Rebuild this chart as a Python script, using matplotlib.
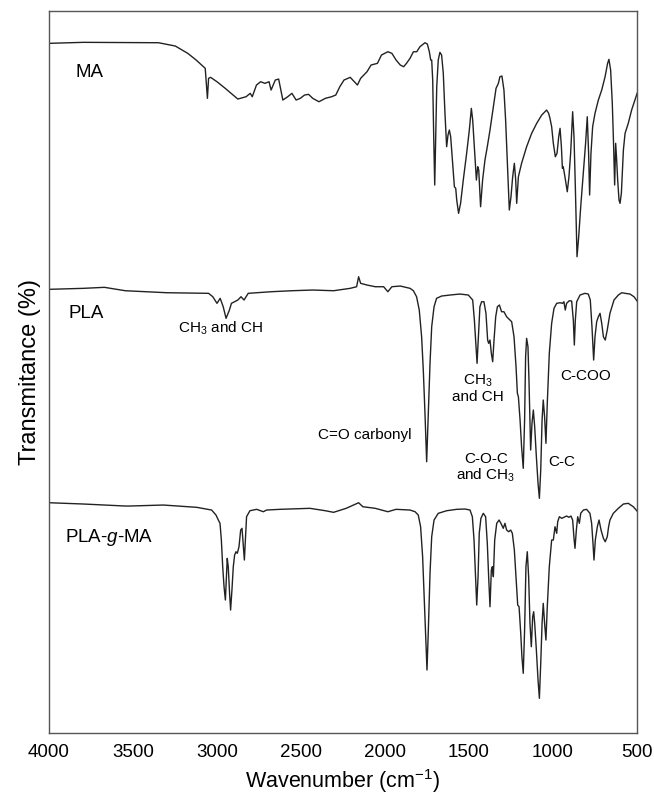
import matplotlib.pyplot as plt

plt.rcParams['font.family'] = ['Liberation Sans', 'DejaVu Sans']
plt.rcParams['mathtext.fontset'] = 'custom'
plt.rcParams['mathtext.rm'] = 'Liberation Sans'
plt.rcParams['mathtext.it'] = 'Liberation Sans:italic'

# spectra (wavenumber in cm-1, offset transmittance in arbitrary units)
ma_wn = [4000, 3794, 3546, 3348, 3248, 3174, 3124, 3080, 3070, 3057, 3050, 3038, 3000, 2951, 2876,
         2827, 2802, 2790, 2765, 2740, 2715, 2690, 2678, 2653, 2633, 2608, 2579, 2554, 2529, 2504,
         2479, 2455, 2430, 2393, 2355, 2318, 2293, 2269, 2244, 2207, 2182, 2164, 2145, 2107, 2083,
         2045, 2021, 1983, 1959, 1934, 1909, 1889, 1872,
         1851, 1831, 1811, 1792, 1762, 1748, 1736, 1728, 1722, 1716, 1710, 1704, 1698, 1692, 1683,
         1673, 1663, 1653, 1643, 1633, 1625, 1617, 1609, 1597, 1587, 1579, 1573, 1562, 1550, 1534,
         1514, 1498, 1486, 1478, 1466, 1456, 1448, 1442, 1431, 1419, 1405, 1391, 1375, 1355, 1339,
         1325, 1316, 1304, 1292, 1282, 1272, 1260, 1250, 1240, 1230, 1222, 1216, 1206, 1187, 1157,
         1127, 1097, 1067, 1038, 1026, 1018, 1008, 998, 986, 976, 966, 958, 950, 944, 939, 929,
         915, 905, 895, 883, 875, 867, 857, 847, 835, 820, 806, 796, 788, 782, 774, 764, 750, 730,
         710, 690, 675, 667, 657, 647, 639, 633, 627, 621, 615, 607, 601, 593, 581, 571, 552, 532,
         512, 496]
ma_t = [689.7, 690.7, 690.5, 690.3, 687, 679.7, 673, 666.3, 664.7, 634.7, 654.7, 655.7, 651.3, 644.7, 634,
        636.3, 639.7, 636.3, 648, 651.3, 649.7, 651.3, 643, 653, 654, 633, 636.3, 639.7, 633, 634.7,
        638, 638.7, 634.7, 631.3, 634.7, 636.3, 638, 646.3, 653, 655.7, 651.3, 648, 654.7, 661.3, 668,
        669.7, 678, 681.3, 679.7, 673, 668, 666.3, 669.7,
        674.7, 681.3, 681.3, 686.3, 690.3, 689, 681.3, 673, 673, 653, 596.3, 548, 596.3, 646.3, 673,
        680.7, 678, 659.7, 619.7, 586.3, 598, 603, 596.3, 569.7, 546.3, 544.7, 533, 519.7, 529.7, 553,
        579.7, 603, 624.7, 613, 579.7, 553, 566.3, 563, 526.3, 553, 573, 586.3, 603, 626.3, 644.7,
        649.7, 656.3, 657, 643, 613, 573, 523, 536.3, 556.3, 569.7, 553, 529.7, 556.3, 569.7, 586.3,
        599.7, 609.7, 618, 623, 619.7, 614.7, 606.3, 589.7, 576.3, 579.7, 596.3, 604.7, 586.3, 564.7, 566.3, 556.3,
        541.3, 556.3, 579.7, 621.3, 596.3, 546.3, 476.3, 496.3, 526.3, 559.7, 589.7, 616.3, 579.7, 538, 579.7, 606.3, 619.7, 633,
        643, 656.3, 669.7, 673.7, 663, 629.7, 586.3, 548, 589.7, 573, 553, 533, 529.7, 539.7, 583, 599.7, 609.7, 623,
        633, 641.3]

pla_wn = [4000, 3794, 3670, 3546, 3298, 3050, 3025, 3000, 2981, 2963, 2946, 2926, 2914, 2896, 2876,
          2857, 2839, 2814, 2678, 2554, 2430, 2306, 2207, 2169, 2157, 2145, 2107, 2058, 2008, 1983,
          1959, 1909,
          1851, 1831, 1812, 1796, 1782, 1772, 1762, 1752, 1742, 1732, 1722, 1708, 1693, 1663, 1613,
          1554, 1504, 1478, 1468, 1458, 1452, 1444, 1435, 1425, 1411, 1399, 1389, 1383, 1375, 1367,
          1359, 1351, 1341, 1331, 1319, 1306, 1292, 1276, 1256, 1246, 1232, 1220, 1212, 1206, 1196,
          1187, 1177, 1169, 1163, 1157, 1149, 1143, 1133, 1125, 1117, 1109, 1099, 1089, 1081, 1073,
          1065, 1058, 1050, 1042, 1034, 1022, 1008, 994, 978, 958, 943, 935, 927, 919, 903, 889,
          879, 873, 867, 859, 839, 810, 790, 778, 768, 758, 750, 740, 730, 720, 710, 700, 689, 677,
          661, 637, 611, 591, 571, 542, 518, 496]
pla_t = [443.7, 444.7, 445.7, 442.3, 440.3, 439.7, 436.3, 429.7, 434.7, 426.3, 414.7, 423, 429.7, 431.3, 433,
         436.3, 433, 439.7, 441.3, 442.3, 443, 442.3, 444.7, 446.3, 456.3, 449.7, 448, 446.3, 446.3, 441.3,
         446.3, 447,
         444.7, 442.3, 436.3, 423, 396.3, 363, 319.7, 271.3, 319.7, 369.7, 406.3, 426.3, 434.7, 437, 438,
         439, 438, 433, 413, 386.3, 369.7, 396.3, 426.3, 431.3, 431.3, 419.7, 393, 389.7, 393, 379.7,
         371.3, 393, 416.3, 426.3, 428, 421.3, 421.3, 416.3, 413, 411.3, 396.3, 366.3, 339.7, 336.3, 313,
         286.3, 264.7, 313, 376.3, 394.7, 386.3, 353, 283, 309.7, 323, 306.3, 276.3, 249.7, 234.7, 263,
         313, 333, 316.3, 289.7, 329.7, 379.7, 409.7, 424.7, 429.7, 430.3, 429.7, 431.3, 423, 429.7, 432.3, 432,
         413, 388, 413, 431.3, 438, 439.7, 439, 433, 406.3, 373, 396.3, 411.3, 416.3, 419.7, 409.7, 396.3, 393, 403,
         419.7, 433, 438, 440.3, 439.7, 439, 436.3, 431.3]

plagma_wn = [4000, 3794, 3546, 3518, 3320, 3121, 3032, 3006, 2992, 2982, 2974, 2966, 2958, 2950, 2943,
             2939, 2933, 2925, 2919, 2911, 2903, 2895, 2887, 2879, 2869, 2859, 2851, 2843, 2837, 2831,
             2824, 2804, 2764, 2724, 2705, 2625, 2526, 2447, 2355, 2306, 2231, 2157, 2132, 2058, 1983,
             1934,
             1851, 1821, 1802, 1788, 1776, 1766, 1758, 1750, 1742, 1732, 1722, 1708, 1683, 1633, 1573,
             1524, 1494, 1480, 1470, 1462, 1454, 1446, 1439, 1429, 1415, 1401, 1391, 1383, 1375, 1367,
             1361, 1355, 1347, 1335, 1321, 1310, 1296, 1286, 1276, 1264, 1252, 1242, 1230, 1220, 1210,
             1202, 1192, 1185, 1177, 1169, 1161, 1153, 1145, 1137, 1129, 1121, 1115, 1109, 1099, 1089,
             1081, 1073, 1065, 1058, 1050, 1042, 1034, 1022, 1008, 998, 988, 978, 972, 962, 948, 935,
             919, 905, 893, 883, 875, 869, 861, 853, 843, 835, 819, 800, 780, 770, 762, 756, 748, 736,
             726, 714, 700, 689, 677, 669, 661, 641, 611, 581, 552, 522, 496]
plagma_t = [230.3, 229, 227, 227, 228, 225.7, 223, 218, 213, 209.7, 193, 166.3, 146.3, 133, 159.7,
            174.7, 166.3, 139.7, 123, 143, 166.3, 178, 181.3, 179.7, 186.3, 203, 204.7, 186.3, 173, 193,
            216.3, 222.3, 223.7, 221.3, 223, 223.7, 224.3, 224.7, 222.3, 220.7, 224.7, 230.3, 226.3, 224.7, 221.3,
            223.7,
            223, 221.3, 218, 206.3, 176.3, 133, 96.3, 63, 103, 159.7, 196.3, 213, 219.7, 222.3, 223.7,
            224, 223, 216.3, 193, 159.7, 128, 156.3, 199.7, 214.7, 219.7, 216.3, 189.7, 156.3, 126.3, 163,
            166.3, 156.3, 193, 209.7, 213, 209.7, 204.7, 209.7, 203, 201.3, 203, 199.7, 183, 156.3, 128,
            126.3, 99.7, 76.3, 59.7, 103, 166.3, 181.3, 156.3, 109.7, 86.3, 116.3, 121.3, 109.7, 83, 53,
            34.7, 69.7, 109.7, 129.7, 109.7, 93, 126.3, 166.3, 193, 193, 206.3, 199.7, 211.3, 216.3, 214.7, 215.7,
            217, 215.7, 217, 213, 194.7, 184.7, 203, 216.3, 209.7, 219.7, 223, 223.7, 219.7, 209.7, 189.7, 173, 193, 206.3,
            213, 203, 194.7, 191.3, 196.3, 206.3, 213, 219.7, 224.7, 229, 229.7, 226.3, 221.3]

xticks = [4000, 3500, 3000, 2500, 2000, 1500, 1000, 500]

fig = plt.figure(figsize=(6.54, 7.94), dpi=100)
ax = fig.add_axes([0.0749, 0.0768, 0.8991, 0.9093])

ax.plot(ma_wn, ma_t, color='#222222', lw=1.0)
ax.plot(pla_wn, pla_t, color='#222222', lw=1.0)
ax.plot(plagma_wn, plagma_t, color='#222222', lw=1.0)

ax.set_xlim(4000, 500)
ax.set_ylim(0, 722)
ax.set_xticks(xticks)
ax.set_yticks([])
ax.tick_params(axis='x', length=0, pad=8, labelsize=13.5)
for s in ax.spines.values():
    s.set_color('#555555')
    s.set_linewidth(1.0)

ax.set_xlabel('Wavenumber (cm$^{-1}$)', fontsize=15.5, labelpad=4)
ax.set_ylabel('Transmitance (%)', fontsize=17, labelpad=6)

# sample names
ax.text(3845, 661, 'MA', fontsize=13.5, ha='left', va='center')
ax.text(3881, 420, 'PLA', fontsize=13.5, ha='left', va='center')
ax.text(3905, 196, 'PLA-$g$-MA', fontsize=13.5, ha='left', va='center')

# band assignments
ax.text(2980, 405, 'CH$_3$ and CH', fontsize=11, ha='center', va='center')
ax.text(1446, 345, 'CH$_3$\nand CH', fontsize=11, ha='center', va='center', linespacing=1.1)
ax.text(804, 357, 'C-COO', fontsize=11, ha='center', va='center')
ax.text(2120, 298, 'C=O carbonyl', fontsize=11, ha='center', va='center')
ax.text(1400, 265, 'C-O-C\nand CH$_3$', fontsize=11, ha='center', va='center', linespacing=1.1)
ax.text(945, 271, 'C-C', fontsize=11, ha='center', va='center')

plt.savefig('out.png', dpi=100)
